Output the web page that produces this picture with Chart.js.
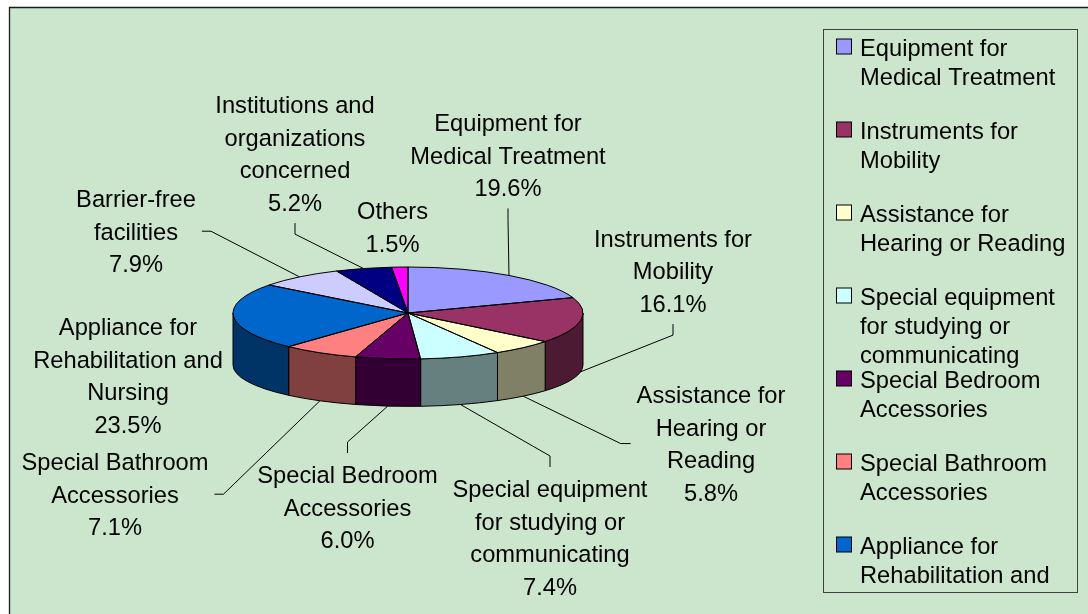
<!DOCTYPE html>
<html>
<head>
<meta charset="utf-8">
<script src="https://cdn.jsdelivr.net/npm/chart.js@4.4.1/dist/chart.umd.min.js"></script>
<style>
html,body{margin:0;padding:0;background:#fff;overflow:hidden}
canvas{display:block}
</style>
</head>
<body>
<canvas id="c" width="1088" height="614"></canvas>
<script>
// ---- data ----
const categories = [
  "Equipment for Medical Treatment",
  "Instruments for Mobility",
  "Assistance for Hearing or Reading",
  "Special equipment for studying or communicating",
  "Special Bedroom Accessories",
  "Special Bathroom Accessories",
  "Appliance for Rehabilitation and Nursing",
  "Barrier-free facilities",
  "Institutions and organizations concerned",
  "Others"
];
const shares = [19.6, 16.1, 5.8, 7.4, 6.0, 7.1, 23.5, 7.9, 5.2, 1.5];
const sliceColors = ["#9999FF","#993366","#FFFFCC","#CCFFFF","#660066","#FF8080","#0066CC","#CCCCFF","#000080","#FF00FF"];

// ---- label layout (offset of label centre / first baseline from pie centre; leader side) ----
const labelLayout = [
  {dx: 100,   dy: -182,  leader: "down"},
  {dx: 265,   dy: -66.3, leader: "down"},
  {dx: 303,   dy: 90,    leader: "right"},
  {dx: 142,   dy: 184,   leader: "up"},
  {dx: -60.5, dy: 170,   leader: "up"},
  {dx: -293,  dy: 157,   leader: "left"},
  {dx: -280,  dy: 22,    leader: null},
  {dx: -272,  dy: -106,  leader: "left"},
  {dx: -113,  dy: -200,  leader: "down"},
  {dx: -15.5, dy: -94,   leader: null}
];

// ---- style ----
const FONT = "23.7px 'Liberation Sans', Arial, sans-serif";
const TILT = 46 / 175;     // vertical squash of the top face
const DEPTH = 52;          // thickness of the pie
const BOTTOM_RATIO = 0.9;  // perspective on the bottom rim
const LABEL_LINE = 32.7;
const LABEL_WRAP = 200;
const LEG = {x: 823, y: 29, w: 254, h: 563, first: 55.5, slot: 83, line: 29.3, sw: 836.5, tx: 860, wrap: 212};

function shade(hex, f) {
  const n = parseInt(hex.slice(1), 16);
  const r = Math.round(((n >> 16) & 255) * f), g = Math.round(((n >> 8) & 255) * f), b = Math.round((n & 255) * f);
  return `rgb(${r},${g},${b})`;
}
function wrap(ctx, text, maxW) {
  const words = text.split(" ");
  const lines = [];
  let cur = "";
  for (const w of words) {
    const t = cur ? cur + " " + w : w;
    if (cur && ctx.measureText(t).width > maxW) { lines.push(cur); cur = w; }
    else cur = t;
  }
  if (cur) lines.push(cur);
  return lines;
}
function geom(chart) {
  const a0 = chart.getDatasetMeta(0).data[0];
  const cx = a0.x, cy = a0.y, rx = a0.outerRadius, ry = rx * TILT;
  return {cx, cy, rx, ry, cyB: cy + DEPTH, ryB: ry * BOTTOM_RATIO};
}

const pie3d = {
  id: "pie3d",
  beforeDraw(chart) {
    const ctx = chart.ctx, W = chart.width, H = chart.height;
    ctx.save();
    ctx.fillStyle = "#ffffff"; ctx.fillRect(0, 0, W, H);
    ctx.fillStyle = "#CCE6CD"; ctx.fillRect(9, 7, W - 9, H - 7);
    ctx.strokeStyle = "#1a1a1a"; ctx.lineWidth = 1.3;
    ctx.beginPath(); ctx.moveTo(9.5, H); ctx.lineTo(9.5, 7.5); ctx.lineTo(W, 7.5); ctx.stroke();
    ctx.restore();
  },
  beforeDatasetsDraw(chart) {
    const ctx = chart.ctx, meta = chart.getDatasetMeta(0);
    const g = geom(chart);
    ctx.save();
    ctx.lineWidth = 1; ctx.strokeStyle = "#000"; ctx.lineJoin = "round";
    meta.data.forEach((arc, i) => {
      const a1 = Math.max(arc.startAngle, 0), a2 = Math.min(arc.endAngle, Math.PI);
      if (a2 <= a1) return;
      ctx.beginPath();
      ctx.ellipse(g.cx, g.cy, g.rx, g.ry, 0, a1, a2, false);
      ctx.lineTo(g.cx + g.rx * Math.cos(a2), g.cyB + g.ryB * Math.sin(a2));
      ctx.ellipse(g.cx, g.cyB, g.rx, g.ryB, 0, a2, a1, true);
      ctx.closePath();
      ctx.fillStyle = shade(sliceColors[i], 0.5);
      ctx.fill(); ctx.stroke();
    });
    ctx.restore();
    // squash the library-drawn top face
    ctx.save();
    ctx.translate(g.cx, g.cy); ctx.scale(1, TILT); ctx.translate(-g.cx, -g.cy);
  },
  afterDatasetsDraw(chart) {
    const ctx = chart.ctx, meta = chart.getDatasetMeta(0);
    ctx.restore();
    const g = geom(chart);
    ctx.save();
    ctx.lineWidth = 1; ctx.strokeStyle = "#000"; ctx.lineJoin = "round";
    meta.data.forEach(arc => {
      const s = arc.startAngle, e = arc.endAngle;
      ctx.beginPath();
      ctx.moveTo(g.cx, g.cy);
      ctx.lineTo(g.cx + g.rx * Math.cos(s), g.cy + g.ry * Math.sin(s));
      ctx.ellipse(g.cx, g.cy, g.rx, g.ry, 0, s, e, false);
      ctx.closePath();
      ctx.stroke();
    });
    // data labels
    ctx.font = FONT; ctx.fillStyle = "#000"; ctx.textAlign = "center"; ctx.textBaseline = "alphabetic";
    const values = chart.data.datasets[0].data;
    meta.data.forEach((arc, i) => {
      const L = labelLayout[i];
      const lines = wrap(ctx, chart.data.labels[i], LABEL_WRAP);
      lines.push(values[i].toFixed(1) + "%");
      const lx = g.cx + L.dx, b1 = g.cy + L.dy;
      let maxW = 0;
      lines.forEach((t, k) => { ctx.fillText(t, lx, b1 + k * LABEL_LINE); maxW = Math.max(maxW, ctx.measureText(t).width); });
      if (!L.leader) return;
      const bN = b1 + (lines.length - 1) * LABEL_LINE;
      const mid = (b1 - 17 + bN) / 2;
      let p0, p1;
      if (L.leader === "down") { p0 = [lx, bN + 12]; p1 = [lx, bN + 23]; }
      else if (L.leader === "up") { p0 = [lx, b1 - 30]; p1 = [lx, b1 - 41]; }
      else if (L.leader === "left") { p0 = [lx + maxW / 2 + 6, mid]; p1 = [p0[0] + 9, mid]; }
      else { p0 = [lx - maxW / 2 - 6, mid]; p1 = [p0[0] - 10, mid]; }
      const m = (arc.startAngle + arc.endAngle) / 2;
      const front = Math.sin(m) > 0;
      const p2 = [g.cx + g.rx * Math.cos(m), front ? g.cyB + g.ryB * Math.sin(m) : g.cy + g.ry * Math.sin(m)];
      ctx.beginPath(); ctx.moveTo(p0[0], p0[1]); ctx.lineTo(p1[0], p1[1]); ctx.lineTo(p2[0], p2[1]);
      ctx.lineWidth = 1; ctx.strokeStyle = "#000"; ctx.stroke();
    });
    ctx.restore();
  },
  afterDraw(chart) {
    const ctx = chart.ctx;
    ctx.save();
    ctx.fillStyle = "#CCE6CD"; ctx.fillRect(LEG.x, LEG.y, LEG.w, LEG.h);
    ctx.beginPath(); ctx.rect(LEG.x, LEG.y, LEG.w, LEG.h); ctx.clip();
    ctx.font = FONT; ctx.textAlign = "left"; ctx.textBaseline = "alphabetic";
    const bg = chart.data.datasets[0].backgroundColor;
    chart.data.labels.forEach((lab, i) => {
      const base = LEG.first + i * LEG.slot;
      ctx.fillStyle = bg[i];
      ctx.fillRect(LEG.sw, base - 16.5, 15, 15);
      ctx.strokeStyle = "#000"; ctx.lineWidth = 1;
      ctx.strokeRect(LEG.sw, base - 16.5, 15, 15);
      ctx.fillStyle = "#000";
      wrap(ctx, lab, LEG.wrap).forEach((t, k) => ctx.fillText(t, LEG.tx, base + k * LEG.line));
    });
    ctx.restore();
    ctx.save();
    ctx.strokeStyle = "#404040"; ctx.lineWidth = 1;
    ctx.strokeRect(LEG.x + 0.5, LEG.y + 0.5, LEG.w, LEG.h);
    ctx.restore();
  }
};

new Chart(document.getElementById("c"), {
  type: "pie",
  data: {
    labels: categories,
    datasets: [{
      data: shares,
      backgroundColor: sliceColors,
      borderWidth: 0,
      hoverOffset: 0,
      offset: 0,
      clip: false
    }]
  },
  options: {
    responsive: false,
    animation: false,
    events: [],
    layout: {padding: {left: 233, right: 505, top: 138, bottom: 126}},
    plugins: {legend: {display: false}, tooltip: {enabled: false}, title: {display: false}}
  },
  plugins: [pie3d]
});
</script>
</body>
</html>
